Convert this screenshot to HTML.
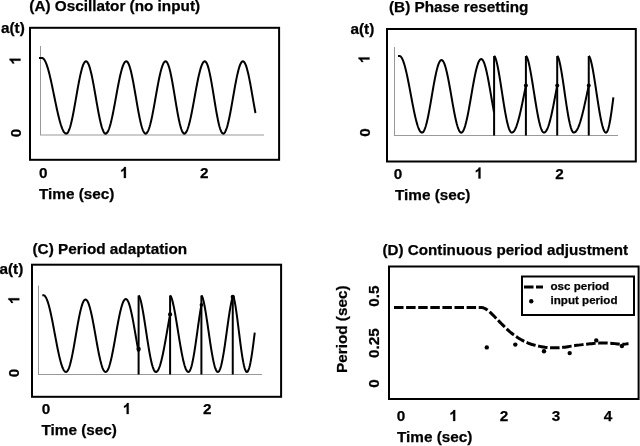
<!DOCTYPE html>
<html><head><meta charset="utf-8"><style>
html,body{margin:0;padding:0;background:#fff;width:640px;height:446px;overflow:hidden}
svg{display:block;will-change:transform}
text{font-family:"Liberation Sans",sans-serif;font-weight:bold;fill:#000;stroke:#000;stroke-width:0.25px}
</style></head><body>
<svg width="640" height="446" viewBox="0 0 640 446">
<rect x="30" y="27.8" width="249.1" height="132" fill="none" stroke="#000" stroke-width="2"/>
<line x1="40.5" y1="46" x2="40.5" y2="135" stroke="#999" stroke-width="1"/>
<line x1="40" y1="135" x2="264" y2="135" stroke="#999" stroke-width="1"/>
<path d="M39.00,58.00 L39.50,58.00 L40.00,58.00 L40.50,58.00 L41.00,58.00 L41.50,58.00 L42.00,58.00 L42.51,58.08 L43.01,58.32 L43.52,58.73 L44.02,59.29 L44.53,60.01 L45.03,60.88 L45.54,61.90 L46.04,63.06 L46.55,64.37 L47.05,65.81 L47.56,67.38 L48.06,69.07 L48.57,70.88 L49.07,72.79 L49.58,74.80 L50.08,76.90 L50.59,79.08 L51.09,81.33 L51.60,83.65 L52.10,86.02 L52.61,88.43 L53.11,90.87 L53.62,93.33 L54.12,95.80 L54.63,98.27 L55.14,100.73 L55.64,103.17 L56.15,105.58 L56.65,107.95 L57.16,110.27 L57.66,112.52 L58.17,114.70 L58.67,116.80 L59.18,118.81 L59.68,120.72 L60.19,122.53 L60.69,124.22 L61.20,125.79 L61.70,127.23 L62.21,128.54 L62.71,129.70 L63.22,130.72 L63.72,131.59 L64.23,132.31 L64.73,132.87 L65.24,133.28 L65.74,133.52 L66.25,133.60 L66.76,133.48 L67.26,133.13 L67.77,132.55 L68.28,131.74 L68.78,130.71 L69.29,129.46 L69.79,128.00 L70.30,126.35 L70.81,124.51 L71.31,122.49 L71.82,120.31 L72.33,117.99 L72.83,115.53 L73.34,112.95 L73.85,110.27 L74.35,107.51 L74.86,104.68 L75.37,101.81 L75.87,98.91 L76.38,95.99 L76.88,93.09 L77.39,90.22 L77.90,87.39 L78.40,84.63 L78.91,81.95 L79.42,79.38 L79.92,76.91 L80.43,74.59 L80.94,72.41 L81.44,70.39 L81.95,68.55 L82.46,66.90 L82.96,65.44 L83.47,64.19 L83.97,63.16 L84.48,62.35 L84.99,61.77 L85.49,61.42 L86.00,61.30 L86.50,61.42 L87.01,61.77 L87.51,62.35 L88.01,63.16 L88.51,64.19 L89.02,65.44 L89.52,66.90 L90.02,68.55 L90.52,70.39 L91.03,72.41 L91.53,74.59 L92.03,76.91 L92.53,79.38 L93.04,81.95 L93.54,84.63 L94.04,87.39 L94.54,90.22 L95.05,93.09 L95.55,95.99 L96.05,98.91 L96.55,101.81 L97.06,104.68 L97.56,107.51 L98.06,110.27 L98.56,112.95 L99.07,115.52 L99.57,117.99 L100.07,120.31 L100.57,122.49 L101.08,124.51 L101.58,126.35 L102.08,128.00 L102.58,129.46 L103.09,130.71 L103.59,131.74 L104.09,132.55 L104.59,133.13 L105.10,133.48 L105.60,133.60 L106.10,133.49 L106.61,133.18 L107.11,132.65 L107.61,131.92 L108.12,130.98 L108.62,129.85 L109.13,128.52 L109.63,127.02 L110.13,125.34 L110.64,123.50 L111.14,121.50 L111.64,119.37 L112.15,117.10 L112.65,114.72 L113.15,112.24 L113.66,109.67 L114.16,107.03 L114.67,104.33 L115.17,101.60 L115.67,98.83 L116.18,96.07 L116.68,93.30 L117.18,90.57 L117.69,87.87 L118.19,85.23 L118.70,82.66 L119.20,80.18 L119.70,77.80 L120.21,75.53 L120.71,73.40 L121.21,71.40 L121.72,69.56 L122.22,67.88 L122.72,66.38 L123.23,65.05 L123.73,63.92 L124.24,62.98 L124.74,62.25 L125.24,61.72 L125.75,61.41 L126.25,61.30 L126.76,61.42 L127.27,61.79 L127.78,62.41 L128.29,63.26 L128.80,64.34 L129.31,65.66 L129.81,67.19 L130.32,68.92 L130.83,70.85 L131.34,72.97 L131.85,75.25 L132.36,77.68 L132.87,80.24 L133.38,82.93 L133.89,85.71 L134.40,88.58 L134.91,91.50 L135.42,94.46 L135.93,97.45 L136.43,100.44 L136.94,103.40 L137.45,106.32 L137.96,109.19 L138.47,111.97 L138.98,114.66 L139.49,117.22 L140.00,119.65 L140.51,121.93 L141.02,124.05 L141.53,125.98 L142.04,127.71 L142.54,129.24 L143.05,130.56 L143.56,131.64 L144.07,132.49 L144.58,133.11 L145.09,133.48 L145.60,133.60 L146.10,133.49 L146.60,133.15 L147.10,132.60 L147.60,131.83 L148.10,130.85 L148.60,129.66 L149.10,128.27 L149.60,126.70 L150.10,124.94 L150.60,123.01 L151.10,120.93 L151.60,118.70 L152.10,116.34 L152.60,113.86 L153.10,111.28 L153.60,108.62 L154.10,105.89 L154.60,103.11 L155.10,100.29 L155.60,97.45 L156.10,94.61 L156.60,91.79 L157.10,89.01 L157.60,86.28 L158.10,83.62 L158.60,81.04 L159.10,78.56 L159.60,76.20 L160.10,73.97 L160.60,71.89 L161.10,69.96 L161.60,68.20 L162.10,66.63 L162.60,65.24 L163.10,64.05 L163.60,63.07 L164.10,62.30 L164.60,61.75 L165.10,61.41 L165.60,61.30 L166.11,61.43 L166.61,61.82 L167.12,62.47 L167.62,63.36 L168.13,64.51 L168.63,65.89 L169.14,67.50 L169.64,69.32 L170.15,71.35 L170.65,73.57 L171.16,75.95 L171.66,78.50 L172.17,81.18 L172.68,83.97 L173.18,86.86 L173.69,89.83 L174.19,92.86 L174.70,95.92 L175.20,98.98 L175.71,102.04 L176.21,105.07 L176.72,108.04 L177.22,110.93 L177.73,113.72 L178.24,116.40 L178.74,118.95 L179.25,121.33 L179.75,123.55 L180.26,125.58 L180.76,127.40 L181.27,129.01 L181.77,130.39 L182.28,131.54 L182.78,132.43 L183.29,133.08 L183.79,133.47 L184.30,133.60 L184.80,133.49 L185.30,133.18 L185.80,132.65 L186.30,131.92 L186.80,130.98 L187.30,129.85 L187.80,128.52 L188.30,127.02 L188.80,125.34 L189.30,123.50 L189.80,121.50 L190.30,119.37 L190.80,117.10 L191.30,114.72 L191.80,112.24 L192.30,109.67 L192.80,107.03 L193.30,104.33 L193.80,101.60 L194.30,98.83 L194.80,96.07 L195.30,93.30 L195.80,90.57 L196.30,87.87 L196.80,85.23 L197.30,82.66 L197.80,80.18 L198.30,77.80 L198.80,75.53 L199.30,73.40 L199.80,71.40 L200.30,69.56 L200.80,67.88 L201.30,66.38 L201.80,65.05 L202.30,63.92 L202.80,62.98 L203.30,62.25 L203.80,61.72 L204.30,61.41 L204.80,61.30 L205.31,61.44 L205.82,61.85 L206.33,62.53 L206.84,63.48 L207.36,64.69 L207.87,66.14 L208.38,67.84 L208.89,69.76 L209.40,71.89 L209.91,74.21 L210.42,76.72 L210.93,79.38 L211.44,82.17 L211.96,85.09 L212.47,88.09 L212.98,91.17 L213.49,94.30 L214.00,97.45 L214.51,100.60 L215.02,103.73 L215.53,106.81 L216.04,109.81 L216.56,112.73 L217.07,115.52 L217.58,118.18 L218.09,120.69 L218.60,123.01 L219.11,125.14 L219.62,127.06 L220.13,128.76 L220.64,130.21 L221.16,131.42 L221.67,132.37 L222.18,133.05 L222.69,133.46 L223.20,133.60 L223.71,133.48 L224.21,133.13 L224.72,132.55 L225.22,131.74 L225.73,130.71 L226.23,129.46 L226.74,128.00 L227.24,126.35 L227.75,124.51 L228.25,122.49 L228.76,120.31 L229.26,117.99 L229.77,115.53 L230.27,112.95 L230.78,110.27 L231.28,107.51 L231.79,104.68 L232.29,101.81 L232.80,98.91 L233.30,95.99 L233.81,93.09 L234.31,90.22 L234.82,87.39 L235.32,84.63 L235.83,81.95 L236.33,79.38 L236.84,76.91 L237.34,74.59 L237.85,72.41 L238.35,70.39 L238.86,68.55 L239.36,66.90 L239.87,65.44 L240.37,64.19 L240.88,63.16 L241.38,62.35 L241.89,61.77 L242.39,61.42 L242.90,61.30 L243.40,61.42 L243.91,61.77 L244.41,62.35 L244.91,63.16 L245.41,64.19 L245.92,65.44 L246.42,66.90 L246.92,68.55 L247.42,70.39 L247.93,72.41 L248.43,74.59 L248.93,76.91 L249.43,79.38 L249.94,81.95 L250.44,84.63 L250.94,87.39 L251.44,90.22 L251.95,93.09 L252.45,95.99 L252.95,98.91 L253.45,101.81 L253.96,104.68 L254.46,107.51 L254.96,110.27 L255.46,112.95 L255.50,113.13" fill="none" stroke="#000" stroke-width="2"/>
<text x="29.3" y="10.5" font-size="15.3" text-anchor="start" >(A) Oscillator (no input)</text>
<text x="1" y="33" font-size="15.3" text-anchor="start" >a(t)</text>
<path d="M536,0 L810,0 L810,1466 L588,1466 Q541,1307 415,1209 Q289,1111 182,1076 L182,827 Q386,894 536,1034 Z" transform="rotate(-90 20.5 60.5) translate(16.25 60.5) scale(0.00747 -0.00747)" fill="#000" stroke="#000" stroke-width="0.25" vector-effect="non-scaling-stroke"/>
<text x="20.5" y="133" font-size="15.3" text-anchor="middle" transform="rotate(-90 20.5 133)" >0</text>
<text x="43.2" y="178" font-size="15.3" text-anchor="middle" >0</text>
<path d="M536,0 L810,0 L810,1466 L588,1466 Q541,1307 415,1209 Q289,1111 182,1076 L182,827 Q386,894 536,1034 Z" transform="translate(119.85 178) scale(0.00747 -0.00747)" fill="#000" stroke="#000" stroke-width="0.25" vector-effect="non-scaling-stroke"/>
<text x="204.35" y="178" font-size="15.3" text-anchor="middle" >2</text>
<text x="39" y="199" font-size="15.3" text-anchor="start" >Time (sec)</text>
<rect x="387" y="29" width="248.8" height="132.5" fill="none" stroke="#000" stroke-width="2"/>
<line x1="394.5" y1="47" x2="394.5" y2="135.5" stroke="#999" stroke-width="1"/>
<line x1="394" y1="135.5" x2="618" y2="135.5" stroke="#999" stroke-width="1"/>
<path d="M398.00,56.00 L398.50,56.00 L399.00,56.00 L399.50,56.00 L400.00,56.09 L400.50,56.37 L401.00,56.84 L401.50,57.48 L402.00,58.31 L402.50,59.31 L403.00,60.48 L403.50,61.82 L404.00,63.31 L404.50,64.96 L405.00,66.75 L405.50,68.67 L406.00,70.72 L406.50,72.88 L407.00,75.15 L407.50,77.51 L408.00,79.95 L408.50,82.46 L409.00,85.03 L409.50,87.65 L410.00,90.30 L410.50,92.96 L411.00,95.64 L411.50,98.30 L412.00,100.95 L412.50,103.57 L413.00,106.14 L413.50,108.65 L414.00,111.09 L414.50,113.45 L415.00,115.72 L415.50,117.88 L416.00,119.93 L416.50,121.85 L417.00,123.64 L417.50,125.29 L418.00,126.78 L418.50,128.12 L419.00,129.29 L419.50,130.29 L420.00,131.12 L420.50,131.76 L421.00,132.23 L421.50,132.51 L422.00,132.60 L422.50,132.48 L423.00,132.13 L423.50,131.55 L424.00,130.73 L424.50,129.70 L425.00,128.44 L425.50,126.98 L426.00,125.32 L426.50,123.47 L427.00,121.45 L427.50,119.26 L428.00,116.92 L428.50,114.45 L429.00,111.86 L429.50,109.17 L430.00,106.40 L430.50,103.56 L431.00,100.68 L431.50,97.76 L432.00,94.84 L432.50,91.92 L433.00,89.04 L433.50,86.20 L434.00,83.43 L434.50,80.74 L435.00,78.15 L435.50,75.68 L436.00,73.34 L436.50,71.15 L437.00,69.13 L437.50,67.28 L438.00,65.62 L438.50,64.16 L439.00,62.90 L439.50,61.87 L440.00,61.05 L440.50,60.47 L441.00,60.12 L441.50,60.00 L442.01,60.12 L442.51,60.47 L443.02,61.05 L443.53,61.87 L444.03,62.90 L444.54,64.16 L445.04,65.62 L445.55,67.28 L446.06,69.13 L446.56,71.15 L447.07,73.34 L447.58,75.68 L448.08,78.15 L448.59,80.74 L449.10,83.43 L449.60,86.20 L450.11,89.04 L450.62,91.92 L451.12,94.84 L451.63,97.76 L452.13,100.68 L452.64,103.56 L453.15,106.40 L453.65,109.17 L454.16,111.86 L454.67,114.45 L455.17,116.92 L455.68,119.26 L456.19,121.45 L456.69,123.47 L457.20,125.32 L457.71,126.98 L458.21,128.44 L458.72,129.70 L459.22,130.73 L459.73,131.55 L460.24,132.13 L460.74,132.48 L461.25,132.60 L461.76,132.48 L462.27,132.12 L462.78,131.53 L463.30,130.71 L463.81,129.66 L464.32,128.38 L464.83,126.90 L465.34,125.22 L465.85,123.35 L466.37,121.29 L466.88,119.07 L467.39,116.70 L467.90,114.20 L468.41,111.58 L468.92,108.85 L469.43,106.04 L469.95,103.16 L470.46,100.24 L470.97,97.28 L471.48,94.32 L471.99,91.36 L472.50,88.44 L473.02,85.56 L473.53,82.75 L474.04,80.02 L474.55,77.40 L475.06,74.90 L475.57,72.53 L476.08,70.31 L476.60,68.25 L477.11,66.38 L477.62,64.70 L478.13,63.22 L478.64,61.94 L479.15,60.89 L479.67,60.07 L480.18,59.48 L480.69,59.12 L481.20,59.00 L481.71,59.12 L482.22,59.48 L482.72,60.07 L483.23,60.89 L483.74,61.94 L484.25,63.22 L484.75,64.70 L485.26,66.38 L485.77,68.25 L486.28,70.31 L486.78,72.53 L487.29,74.90 L487.80,77.40 L488.31,80.02 L488.82,82.75 L489.32,85.56 L489.83,88.44 L490.34,91.36 L490.85,94.32 L491.35,97.28 L491.86,100.24 L492.37,103.16 L492.88,106.04 L493.38,108.85 L493.89,111.58 L494.10,112.65" fill="none" stroke="#000" stroke-width="2"/>
<line x1="494.1" y1="135.5" x2="494.1" y2="56" stroke="#000" stroke-width="2"/>
<path d="M494.10,56.00 L494.50,56.27 L494.90,56.86 L495.31,57.71 L495.71,58.78 L496.11,60.06 L496.51,61.51 L496.92,63.12 L497.32,64.89 L497.72,66.80 L498.12,68.82 L498.53,70.96 L498.93,73.20 L499.33,75.53 L499.73,77.94 L500.13,80.41 L500.54,82.93 L500.94,85.49 L501.34,88.08 L501.74,90.68 L502.15,93.30 L502.55,95.91 L502.95,98.50 L503.35,101.06 L503.75,103.59 L504.16,106.06 L504.56,108.48 L504.96,110.83 L505.36,113.10 L505.77,115.28 L506.17,117.36 L506.57,119.34 L506.97,121.21 L507.38,122.95 L507.78,124.57 L508.18,126.06 L508.58,127.40 L508.98,128.60 L509.39,129.65 L509.79,130.54 L510.19,131.28 L510.59,131.86 L511.00,132.27 L511.40,132.52 L511.80,132.60 L512.20,132.55 L512.61,132.40 L513.01,132.16 L513.41,131.81 L513.82,131.37 L514.22,130.83 L514.62,130.20 L515.03,129.47 L515.43,128.66 L515.83,127.75 L516.24,126.76 L516.64,125.68 L517.04,124.52 L517.44,123.28 L517.85,121.96 L518.25,120.57 L518.65,119.10 L519.06,117.58 L519.46,115.98 L519.86,114.33 L520.27,112.63 L520.67,110.87 L521.07,109.06 L521.48,107.21 L521.88,105.33 L522.28,103.41 L522.69,101.46 L523.09,99.49 L523.49,97.50 L523.90,95.49 L524.30,93.48 L524.70,91.46 L525.11,89.45 L525.51,87.44 L525.90,85.50" fill="none" stroke="#000" stroke-width="2"/>
<line x1="525.9" y1="135.5" x2="525.9" y2="56" stroke="#000" stroke-width="2"/>
<path d="M525.90,56.00 L526.30,56.26 L526.70,56.83 L527.11,57.65 L527.51,58.68 L527.91,59.91 L528.31,61.30 L528.72,62.86 L529.12,64.57 L529.52,66.40 L529.92,68.36 L530.32,70.43 L530.73,72.60 L531.13,74.85 L531.53,77.18 L531.93,79.58 L532.34,82.02 L532.74,84.52 L533.14,87.04 L533.54,89.58 L533.94,92.14 L534.35,94.69 L534.75,97.23 L535.15,99.75 L535.55,102.24 L535.96,104.69 L536.36,107.09 L536.76,109.43 L537.16,111.69 L537.56,113.88 L537.97,115.98 L538.37,117.99 L538.77,119.89 L539.17,121.69 L539.58,123.36 L539.98,124.91 L540.38,126.34 L540.78,127.62 L541.18,128.77 L541.59,129.78 L541.99,130.63 L542.39,131.34 L542.79,131.89 L543.20,132.28 L543.60,132.52 L544.00,132.60 L544.41,132.54 L544.81,132.37 L545.22,132.09 L545.62,131.69 L546.03,131.18 L546.44,130.56 L546.84,129.83 L547.25,128.99 L547.65,128.05 L548.06,127.01 L548.47,125.87 L548.87,124.63 L549.28,123.30 L549.68,121.88 L550.09,120.38 L550.50,118.79 L550.90,117.13 L551.31,115.40 L551.71,113.60 L552.12,111.74 L552.52,109.82 L552.93,107.85 L553.34,105.83 L553.74,103.77 L554.15,101.68 L554.55,99.56 L554.96,97.42 L555.37,95.27 L555.77,93.10 L556.18,90.93 L556.58,88.76 L556.99,86.61 L557.20,85.50" fill="none" stroke="#000" stroke-width="2"/>
<circle cx="525.9" cy="85.5" r="2" fill="#000"/>
<line x1="557.2" y1="135.5" x2="557.2" y2="56" stroke="#000" stroke-width="2"/>
<path d="M557.20,56.00 L557.60,56.30 L558.01,56.97 L558.41,57.93 L558.82,59.14 L559.22,60.57 L559.63,62.20 L560.03,64.01 L560.44,65.99 L560.84,68.12 L561.25,70.38 L561.65,72.76 L562.06,75.24 L562.46,77.82 L562.87,80.47 L563.27,83.17 L563.68,85.93 L564.08,88.71 L564.49,91.51 L564.89,94.32 L565.30,97.11 L565.70,99.88 L566.11,102.60 L566.51,105.28 L566.92,107.89 L567.32,110.43 L567.73,112.88 L568.13,115.23 L568.54,117.46 L568.94,119.58 L569.35,121.56 L569.75,123.40 L570.16,125.09 L570.56,126.63 L570.97,128.00 L571.37,129.21 L571.78,130.23 L572.18,131.08 L572.59,131.74 L572.99,132.22 L573.40,132.50 L573.80,132.60 L574.21,132.56 L574.61,132.42 L575.02,132.20 L575.42,131.89 L575.83,131.49 L576.24,131.00 L576.64,130.43 L577.05,129.78 L577.46,129.04 L577.86,128.22 L578.27,127.32 L578.67,126.34 L579.08,125.28 L579.49,124.15 L579.89,122.95 L580.30,121.69 L580.70,120.35 L581.11,118.95 L581.52,117.50 L581.92,115.98 L582.33,114.42 L582.73,112.80 L583.14,111.13 L583.55,109.43 L583.95,107.68 L584.36,105.90 L584.77,104.08 L585.17,102.24 L585.58,100.38 L585.98,98.50 L586.39,96.60 L586.80,94.69 L587.20,92.78 L587.61,90.86 L588.01,88.94 L588.42,87.04 L588.75,85.50" fill="none" stroke="#000" stroke-width="2"/>
<circle cx="557.2" cy="85.5" r="2" fill="#000"/>
<line x1="588.75" y1="135.5" x2="588.75" y2="56" stroke="#000" stroke-width="2"/>
<path d="M588.75,56.00 L589.15,56.28 L589.55,56.90 L589.95,57.78 L590.35,58.89 L590.76,60.22 L591.16,61.72 L591.56,63.40 L591.96,65.24 L592.36,67.21 L592.76,69.31 L593.16,71.53 L593.56,73.85 L593.97,76.25 L594.37,78.73 L594.77,81.28 L595.17,83.87 L595.57,86.51 L595.97,89.17 L596.37,91.84 L596.77,94.51 L597.17,97.17 L597.58,99.81 L597.98,102.42 L598.38,104.97 L598.78,107.47 L599.18,109.91 L599.58,112.26 L599.98,114.53 L600.38,116.69 L600.78,118.75 L601.19,120.70 L601.59,122.52 L601.99,124.21 L602.39,125.76 L602.79,127.16 L603.19,128.41 L603.59,129.51 L603.99,130.45 L604.40,131.22 L604.80,131.82 L605.20,132.25 L605.60,132.51 L606.00,132.60 L606.40,132.48 L606.81,132.11 L607.21,131.49 L607.61,130.63 L608.01,129.54 L608.42,128.22 L608.82,126.67 L609.22,124.91 L609.62,122.95 L610.03,120.80 L610.43,118.48 L610.83,115.98 L611.24,113.34 L611.64,110.57 L612.04,107.68 L612.44,104.69 L612.85,101.62 L613.25,98.50 L613.40,97.32" fill="none" stroke="#000" stroke-width="2"/>
<circle cx="588.75" cy="85.5" r="2" fill="#000"/>
<text x="389" y="11.5" font-size="15.3" text-anchor="start" >(B) Phase resetting</text>
<text x="350.5" y="33.5" font-size="15.3" text-anchor="start" >a(t)</text>
<path d="M536,0 L810,0 L810,1466 L588,1466 Q541,1307 415,1209 Q289,1111 182,1076 L182,827 Q386,894 536,1034 Z" transform="rotate(-90 369.5 59.2) translate(365.25 59.2) scale(0.00747 -0.00747)" fill="#000" stroke="#000" stroke-width="0.25" vector-effect="non-scaling-stroke"/>
<text x="369.5" y="132.5" font-size="15.3" text-anchor="middle" transform="rotate(-90 369.5 132.5)" >0</text>
<text x="398.1" y="178.5" font-size="15.3" text-anchor="middle" >0</text>
<path d="M536,0 L810,0 L810,1466 L588,1466 Q541,1307 415,1209 Q289,1111 182,1076 L182,827 Q386,894 536,1034 Z" transform="translate(474.45 178.5) scale(0.00747 -0.00747)" fill="#000" stroke="#000" stroke-width="0.25" vector-effect="non-scaling-stroke"/>
<text x="559.4" y="178.5" font-size="15.3" text-anchor="middle" >2</text>
<text x="395" y="199.5" font-size="15.3" text-anchor="start" >Time (sec)</text>
<rect x="32" y="264.7" width="249.1" height="132.1" fill="none" stroke="#000" stroke-width="2"/>
<line x1="38.5" y1="285.6" x2="38.5" y2="374.5" stroke="#999" stroke-width="1"/>
<line x1="38" y1="374.5" x2="262" y2="374.5" stroke="#999" stroke-width="1"/>
<path d="M42.30,295.30 L42.90,295.30 L43.50,295.30 L44.00,295.39 L44.50,295.67 L45.00,296.14 L45.50,296.79 L46.00,297.61 L46.50,298.62 L47.00,299.79 L47.50,301.13 L48.00,302.62 L48.50,304.27 L49.00,306.06 L49.50,307.99 L50.00,310.04 L50.50,312.20 L51.00,314.48 L51.50,316.84 L52.00,319.28 L52.50,321.80 L53.00,324.37 L53.50,326.99 L54.00,329.64 L54.50,332.31 L55.00,334.99 L55.50,337.66 L56.00,340.31 L56.50,342.93 L57.00,345.50 L57.50,348.02 L58.00,350.46 L58.50,352.82 L59.00,355.10 L59.50,357.26 L60.00,359.31 L60.50,361.24 L61.00,363.03 L61.50,364.68 L62.00,366.17 L62.50,367.51 L63.00,368.68 L63.50,369.69 L64.00,370.51 L64.50,371.16 L65.00,371.63 L65.50,371.91 L66.00,372.00 L66.50,371.88 L67.00,371.53 L67.50,370.95 L68.00,370.13 L68.50,369.10 L69.00,367.85 L69.50,366.39 L70.00,364.73 L70.50,362.88 L71.00,360.86 L71.50,358.68 L72.00,356.34 L72.50,353.88 L73.00,351.29 L73.50,348.60 L74.00,345.84 L74.50,343.00 L75.00,340.12 L75.50,337.21 L76.00,334.29 L76.50,331.38 L77.00,328.50 L77.50,325.66 L78.00,322.90 L78.50,320.21 L79.00,317.62 L79.50,315.16 L80.00,312.82 L80.50,310.64 L81.00,308.62 L81.50,306.77 L82.00,305.11 L82.50,303.65 L83.00,302.40 L83.50,301.37 L84.00,300.55 L84.50,299.97 L85.00,299.62 L85.50,299.50 L86.00,299.61 L86.50,299.95 L87.01,300.50 L87.51,301.27 L88.01,302.26 L88.52,303.45 L89.02,304.84 L89.52,306.42 L90.02,308.19 L90.53,310.12 L91.03,312.21 L91.53,314.44 L92.03,316.81 L92.53,319.29 L93.04,321.88 L93.54,324.55 L94.04,327.29 L94.55,330.08 L95.05,332.91 L95.55,335.75 L96.05,338.59 L96.55,341.42 L97.06,344.21 L97.56,346.95 L98.06,349.62 L98.56,352.21 L99.07,354.69 L99.57,357.06 L100.07,359.29 L100.57,361.38 L101.08,363.31 L101.58,365.08 L102.08,366.66 L102.58,368.05 L103.09,369.24 L103.59,370.23 L104.09,371.00 L104.59,371.55 L105.10,371.89 L105.60,372.00 L106.10,371.89 L106.61,371.55 L107.11,370.99 L107.62,370.21 L108.12,369.22 L108.63,368.02 L109.13,366.62 L109.64,365.03 L110.14,363.25 L110.65,361.31 L111.16,359.20 L111.66,356.95 L112.16,354.57 L112.67,352.07 L113.17,349.47 L113.68,346.78 L114.19,344.02 L114.69,341.21 L115.19,338.36 L115.70,335.50 L116.20,332.64 L116.71,329.79 L117.21,326.98 L117.72,324.22 L118.22,321.53 L118.73,318.93 L119.23,316.43 L119.74,314.05 L120.24,311.80 L120.75,309.69 L121.25,307.75 L121.76,305.97 L122.27,304.38 L122.77,302.98 L123.28,301.78 L123.78,300.79 L124.28,300.01 L124.79,299.45 L125.30,299.11 L125.80,299.00 L126.31,299.12 L126.81,299.47 L127.32,300.06 L127.82,300.88 L128.33,301.92 L128.83,303.18 L129.34,304.65 L129.84,306.32 L130.35,308.18 L130.85,310.22 L131.36,312.42 L131.86,314.77 L132.37,317.25 L132.87,319.85 L133.38,322.56 L133.88,325.35 L134.39,328.20 L134.89,331.10 L135.40,334.03 L135.90,336.97 L136.41,339.90 L136.91,342.80 L137.42,345.65 L137.92,348.44 L138.43,351.15 L138.60,352.03" fill="none" stroke="#000" stroke-width="2"/>
<line x1="138.6" y1="374.5" x2="138.6" y2="295.5" stroke="#000" stroke-width="2"/>
<circle cx="138.6" cy="349" r="2.2" fill="#000"/>
<path d="M138.60,295.50 L139.00,295.84 L139.40,296.55 L139.81,297.53 L140.21,298.75 L140.61,300.16 L141.01,301.76 L141.42,303.53 L141.82,305.44 L142.22,307.48 L142.62,309.64 L143.03,311.91 L143.43,314.26 L143.83,316.70 L144.23,319.20 L144.63,321.75 L145.04,324.35 L145.44,326.97 L145.84,329.62 L146.24,332.26 L146.65,334.91 L147.05,337.53 L147.45,340.13 L147.85,342.68 L148.26,345.19 L148.66,347.63 L149.06,350.01 L149.46,352.30 L149.87,354.51 L150.27,356.62 L150.67,358.62 L151.07,360.50 L151.47,362.26 L151.88,363.90 L152.28,365.40 L152.68,366.75 L153.08,367.96 L153.49,369.02 L153.89,369.92 L154.29,370.67 L154.69,371.25 L155.10,371.67 L155.50,371.92 L155.90,372.00 L156.30,371.94 L156.71,371.74 L157.11,371.42 L157.51,370.97 L157.91,370.40 L158.32,369.70 L158.72,368.88 L159.12,367.94 L159.52,366.88 L159.93,365.71 L160.33,364.43 L160.73,363.05 L161.14,361.56 L161.54,359.97 L161.94,358.30 L162.34,356.53 L162.75,354.68 L163.15,352.76 L163.55,350.77 L163.95,348.71 L164.36,346.59 L164.76,344.43 L165.16,342.22 L165.57,339.97 L165.97,337.69 L166.37,335.39 L166.77,333.07 L167.18,330.75 L167.58,328.43 L167.98,326.12 L168.38,323.82 L168.79,321.54 L169.19,319.30 L169.59,317.10 L170.00,314.95 L170.10,314.41" fill="none" stroke="#000" stroke-width="2"/>
<line x1="170.1" y1="374.5" x2="170.1" y2="295.5" stroke="#000" stroke-width="2"/>
<circle cx="170.1" cy="314.4" r="2.1" fill="#000"/>
<path d="M170.10,295.50 L170.51,295.81 L170.91,296.47 L171.32,297.38 L171.73,298.51 L172.13,299.83 L172.54,301.32 L172.95,302.96 L173.35,304.74 L173.76,306.65 L174.17,308.67 L174.57,310.79 L174.98,313.00 L175.39,315.28 L175.79,317.64 L176.20,320.05 L176.61,322.50 L177.01,324.99 L177.42,327.50 L177.83,330.03 L178.23,332.56 L178.64,335.08 L179.05,337.59 L179.45,340.07 L179.86,342.51 L180.27,344.91 L180.67,347.26 L181.08,349.54 L181.49,351.75 L181.89,353.88 L182.30,355.92 L182.71,357.87 L183.11,359.72 L183.52,361.46 L183.93,363.08 L184.33,364.58 L184.74,365.96 L185.15,367.20 L185.55,368.31 L185.96,369.28 L186.37,370.10 L186.77,370.78 L187.18,371.31 L187.59,371.69 L187.99,371.92 L188.40,372.00 L188.81,371.90 L189.21,371.59 L189.62,371.09 L190.03,370.38 L190.43,369.48 L190.84,368.39 L191.24,367.11 L191.65,365.65 L192.06,364.02 L192.46,362.22 L192.87,360.27 L193.28,358.16 L193.68,355.92 L194.09,353.56 L194.50,351.08 L194.90,348.49 L195.31,345.82 L195.71,343.07 L196.12,340.26 L196.53,337.40 L196.93,334.50 L197.34,331.59 L197.75,328.67 L198.15,325.76 L198.56,322.88 L198.96,320.05 L199.37,317.27 L199.78,314.57 L200.18,311.97 L200.59,309.47 L201.00,307.11 L201.40,304.90" fill="none" stroke="#000" stroke-width="2"/>
<line x1="201.4" y1="374.5" x2="201.4" y2="295.5" stroke="#000" stroke-width="2"/>
<circle cx="201.4" cy="304.9" r="1.8" fill="#000"/>
<path d="M201.40,295.50 L201.80,295.86 L202.20,296.63 L202.61,297.69 L203.01,299.01 L203.41,300.54 L203.81,302.26 L204.22,304.16 L204.62,306.22 L205.02,308.42 L205.42,310.73 L205.83,313.16 L206.23,315.68 L206.63,318.28 L207.03,320.94 L207.44,323.65 L207.84,326.40 L208.24,329.17 L208.64,331.94 L209.05,334.71 L209.45,337.47 L209.85,340.19 L210.25,342.87 L210.66,345.49 L211.06,348.04 L211.46,350.52 L211.86,352.90 L212.27,355.19 L212.67,357.36 L213.07,359.41 L213.47,361.33 L213.88,363.12 L214.28,364.76 L214.68,366.24 L215.08,367.57 L215.49,368.73 L215.89,369.72 L216.29,370.54 L216.69,371.17 L217.10,371.63 L217.50,371.91 L217.90,372.00 L218.30,371.90 L218.71,371.59 L219.11,371.09 L219.51,370.38 L219.92,369.48 L220.32,368.39 L220.72,367.11 L221.13,365.65 L221.53,364.02 L221.93,362.22 L222.33,360.27 L222.74,358.16 L223.14,355.92 L223.54,353.56 L223.95,351.08 L224.35,348.49 L224.75,345.82 L225.16,343.07 L225.56,340.26 L225.96,337.40 L226.37,334.50 L226.77,331.59 L227.17,328.67 L227.58,325.76 L227.98,322.88 L228.38,320.05 L228.79,317.27 L229.19,314.57 L229.59,311.97 L230.00,309.47 L230.40,307.11 L230.80,304.89 L231.20,302.83 L231.61,300.96 L232.01,299.30 L232.41,297.88 L232.75,296.92" fill="none" stroke="#000" stroke-width="2"/>
<line x1="232.75" y1="374.5" x2="232.75" y2="295.5" stroke="#000" stroke-width="2"/>
<circle cx="232.75" cy="296.9" r="2.1" fill="#000"/>
<path d="M232.75,295.50 L233.15,295.97 L233.56,296.96 L233.96,298.34 L234.37,300.03 L234.77,302.01 L235.18,304.22 L235.58,306.65 L235.98,309.26 L236.39,312.04 L236.79,314.95 L237.20,317.98 L237.60,321.09 L238.01,324.28 L238.41,327.50 L238.81,330.75 L239.22,334.00 L239.62,337.23 L240.03,340.42 L240.43,343.55 L240.84,346.59 L241.24,349.54 L241.64,352.37 L242.05,355.06 L242.45,357.60 L242.86,359.97 L243.26,362.17 L243.67,364.16 L244.07,365.96 L244.47,367.53 L244.88,368.88 L245.28,369.99 L245.69,370.87 L246.09,371.50 L246.50,371.87 L246.90,372.00 L247.30,371.87 L247.71,371.50 L248.11,370.87 L248.52,369.99 L248.92,368.88 L249.33,367.53 L249.73,365.96 L250.13,364.16 L250.54,362.17 L250.94,359.97 L251.35,357.60 L251.75,355.06 L252.16,352.37 L252.56,349.54 L252.96,346.59 L253.37,343.55 L253.77,340.42 L254.18,337.23 L254.58,334.00 L254.75,332.65" fill="none" stroke="#000" stroke-width="2"/>
<text x="32.5" y="253.5" font-size="15.3" text-anchor="start" >(C) Period adaptation</text>
<text x="-0.5" y="273.5" font-size="15.3" text-anchor="start" >a(t)</text>
<path d="M536,0 L810,0 L810,1466 L588,1466 Q541,1307 415,1209 Q289,1111 182,1076 L182,827 Q386,894 536,1034 Z" transform="rotate(-90 19.3 300) translate(15.05 300) scale(0.00747 -0.00747)" fill="#000" stroke="#000" stroke-width="0.25" vector-effect="non-scaling-stroke"/>
<text x="18.5" y="373" font-size="15.3" text-anchor="middle" transform="rotate(-90 18.5 373)" >0</text>
<text x="46.1" y="414" font-size="15.3" text-anchor="middle" >0</text>
<path d="M536,0 L810,0 L810,1466 L588,1466 Q541,1307 415,1209 Q289,1111 182,1076 L182,827 Q386,894 536,1034 Z" transform="translate(122.65 414) scale(0.00747 -0.00747)" fill="#000" stroke="#000" stroke-width="0.25" vector-effect="non-scaling-stroke"/>
<text x="207.3" y="414" font-size="15.3" text-anchor="middle" >2</text>
<text x="41.5" y="435.3" font-size="15.3" text-anchor="start" >Time (sec)</text>
<rect x="389" y="266.5" width="249.6" height="132.5" fill="none" stroke="#000" stroke-width="2"/>
<rect x="522" y="276.5" width="112" height="38.5" fill="none" stroke="#000" stroke-width="2"/>
<line x1="524" y1="287" x2="543" y2="287" stroke="#000" stroke-width="3" stroke-dasharray="9.5,2.5"/>
<circle cx="531.25" cy="301.25" r="2.2" fill="#000"/>
<text x="550.5" y="289.6" font-size="11.6" text-anchor="start" >osc period</text>
<text x="550.5" y="303.6" font-size="11.6" text-anchor="start" >input period</text>
<path d="M394.00,307.50 L397.60,307.50 L402.45,307.50 L408.23,307.50 L414.62,307.50 L421.31,307.50 L427.98,307.50 L434.32,307.50 L440.00,307.50 L445.35,307.50 L450.81,307.48 L456.24,307.47 L461.50,307.46 L466.45,307.45 L470.94,307.45 L474.84,307.47 L478.00,307.50 L480.29,307.54 L481.80,307.59 L482.68,307.64 L483.12,307.71 L483.30,307.79 L483.39,307.90 L483.56,308.03 L484.00,308.20 L484.59,308.40 L485.13,308.62 L485.62,308.87 L486.09,309.14 L486.55,309.44 L487.01,309.76 L487.49,310.12 L488.00,310.50 L488.51,310.89 L488.98,311.28 L489.45,311.68 L489.94,312.12 L490.46,312.61 L491.05,313.18 L491.72,313.83 L492.50,314.60 L493.41,315.51 L494.44,316.55 L495.56,317.70 L496.73,318.91 L497.95,320.16 L499.16,321.40 L500.36,322.61 L501.50,323.75 L502.60,324.84 L503.68,325.93 L504.76,327.00 L505.83,328.07 L506.91,329.11 L508.00,330.13 L509.11,331.13 L510.25,332.10 L511.42,333.04 L512.60,333.97 L513.80,334.88 L515.01,335.76 L516.24,336.62 L517.48,337.44 L518.73,338.24 L520.00,339.00 L521.26,339.73 L522.50,340.42 L523.75,341.09 L525.01,341.73 L526.31,342.33 L527.66,342.91 L529.09,343.47 L530.60,344.00 L532.25,344.51 L534.04,345.01 L535.92,345.49 L537.84,345.94 L539.76,346.35 L541.62,346.72 L543.38,347.04 L545.00,347.30 L546.48,347.49 L547.88,347.62 L549.20,347.69 L550.46,347.72 L551.66,347.72 L552.81,347.71 L553.92,347.70 L555.00,347.70 L555.98,347.72 L556.82,347.73 L557.58,347.74 L558.31,347.74 L559.07,347.73 L559.90,347.68 L560.86,347.61 L562.00,347.50 L563.32,347.34 L564.78,347.14 L566.35,346.91 L568.00,346.65 L569.71,346.38 L571.47,346.11 L573.24,345.84 L575.00,345.60 L576.80,345.36 L578.68,345.12 L580.61,344.87 L582.56,344.63 L584.51,344.40 L586.41,344.18 L588.25,343.98 L590.00,343.80 L591.66,343.64 L593.26,343.50 L594.81,343.37 L596.31,343.26 L597.78,343.17 L599.21,343.09 L600.62,343.04 L602.00,343.00 L603.35,342.99 L604.64,343.00 L605.90,343.04 L607.12,343.09 L608.34,343.16 L609.55,343.24 L610.76,343.32 L612.00,343.40 L613.27,343.50 L614.58,343.63 L615.90,343.77 L617.22,343.92 L618.51,344.06 L619.75,344.18 L620.92,344.26 L622.00,344.30 L623.02,344.28 L624.02,344.22 L624.98,344.12 L625.88,344.01 L626.69,343.88 L627.41,343.76 L628.02,343.66 L628.50,343.60" fill="none" stroke="#000" stroke-width="3" stroke-dasharray="9.5,2.6"/>
<circle cx="486.8" cy="347.4" r="2.2" fill="#000"/>
<circle cx="515.3" cy="344.6" r="2.2" fill="#000"/>
<circle cx="544" cy="351.2" r="2.2" fill="#000"/>
<circle cx="569.7" cy="353.1" r="2.2" fill="#000"/>
<circle cx="596.25" cy="340.4" r="2.2" fill="#000"/>
<circle cx="621.9" cy="346" r="2.2" fill="#000"/>
<text x="382.5" y="255.3" font-size="15.2" text-anchor="start" >(D) Continuous period adjustment</text>
<text x="347" y="373" font-size="15.3" text-anchor="start" transform="rotate(-90 347 373)" >Period (sec)</text>
<text x="379" y="296" font-size="15.3" text-anchor="middle" transform="rotate(-90 379 296)" >0.5</text>
<text x="379" y="343" font-size="15.3" text-anchor="middle" transform="rotate(-90 379 343)" >0.25</text>
<text x="379" y="383.5" font-size="15.3" text-anchor="middle" transform="rotate(-90 379 383.5)" >0</text>
<text x="401" y="421" font-size="15.3" text-anchor="middle" >0</text>
<path d="M536,0 L810,0 L810,1466 L588,1466 Q541,1307 415,1209 Q289,1111 182,1076 L182,827 Q386,894 536,1034 Z" transform="translate(449.15 421) scale(0.00747 -0.00747)" fill="#000" stroke="#000" stroke-width="0.25" vector-effect="non-scaling-stroke"/>
<text x="504" y="421" font-size="15.3" text-anchor="middle" >2</text>
<text x="556.1" y="421" font-size="15.3" text-anchor="middle" >3</text>
<text x="607.9" y="421" font-size="15.3" text-anchor="middle" >4</text>
<text x="397" y="442" font-size="15.3" text-anchor="start" >Time (sec)</text>
</svg>
</body></html>
